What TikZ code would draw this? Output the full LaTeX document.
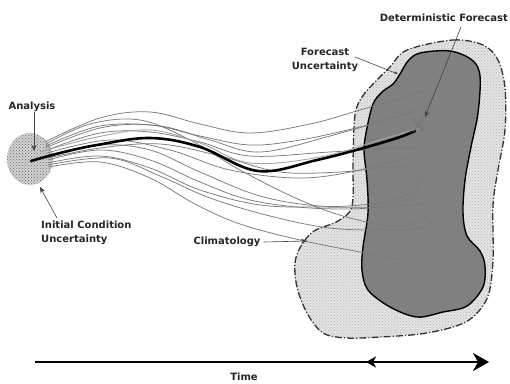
\documentclass[tikz,border=0pt]{standalone}
\usepackage{fontspec}
\setmainfont{DejaVu Sans}
\usetikzlibrary{arrows.meta,patterns}
\begin{document}
\begin{tikzpicture}[x=1pt,y=-1pt,
  lbl/.style={font=\bfseries\fontsize{10}{14.5}\selectfont, inner sep=0pt, text=black!85},
  ens/.style={draw=black!52, line width=0.75pt},
  ptr/.style={draw=black!75, line width=0.6pt, -{Stealth[length=6pt,width=5pt]}},
  climfill/.style={fill=gray!22, postaction={pattern=crosshatch dots, pattern color=gray!55}},
  fcfill/.style={fill=black!50},
  icfill/.style={fill=gray!35, postaction={pattern=crosshatch dots, pattern color=black!60}}
]
\useasboundingbox (0,0) rectangle (510,383);

% climatology region
\path[climfill] plot[smooth cycle, tension=0.55] coordinates {
 (407,50) (453,40) (483,45) (498,60) (505,88) (505,130) (498,170) (493,205) (493,260) (488,296)
 (473,317) (453,327) (420,334) (380,337) (347,338) (323,333) (307,313) (297,287) (295,263)
 (301,246) (314,231) (338,221) (352,206) (353,160) (355,115) (362,97) (375,82) (390,67)};
\draw[black!80, line width=1.3pt, dash pattern=on 7pt off 2pt on 1.2pt off 2pt] plot[smooth cycle, tension=0.55] coordinates {
 (407,50) (453,40) (483,45) (498,60) (505,88) (505,130) (498,170) (493,205) (493,260) (488,296)
 (473,317) (453,327) (420,334) (380,337) (347,338) (323,333) (307,313) (297,287) (295,263)
 (301,246) (314,231) (338,221) (352,206) (353,160) (355,115) (362,97) (375,82) (390,67)};

% forecast uncertainty region
\draw[fcfill, draw=black, line width=1.4pt] plot[smooth cycle, tension=0.55] coordinates {
 (420,53) (450,51) (472,60) (480,76) (478,113) (471,147) (465,180) (463,213) (467,236) (480,251)
 (485,266) (483,287) (467,306) (443,312) (417,317) (390,307) (368,290) (362,270) (363,247)
 (368,213) (367,180) (364,150) (367,128) (373,104) (382,92) (393,84) (400,74) (408,61)};

% initial condition uncertainty
\path[icfill] (30,159) ellipse [x radius=23, y radius=26];

% ensemble members
\draw[ens] plot[smooth, tension=0.6] coordinates {(45,142) (100,118) (150,112) (200,124) (250,133) (310,124) (360,110) (427,90)};
\draw[ens] plot[smooth, tension=0.6] coordinates {(46,146) (100,126) (160,126) (210,140) (260,152) (330,136) (413,112)};
\draw[ens] plot[smooth, tension=0.6] coordinates {(47,150) (100,133) (150,132) (200,142) (250,156) (330,152) (417,147)};
\draw[ens] plot[smooth, tension=0.6] coordinates {(47,153) (110,140) (170,150) (230,170) (300,178) (360,170) (416,154)};
\draw[ens] plot[smooth, tension=0.6] coordinates {(48,158) (100,148) (160,144) (220,156) (280,172) (340,172) (380,168) (417,168)};
\draw[ens] plot[smooth, tension=0.6] coordinates {(47,156) (100,145) (150,150) (200,172) (260,196) (320,206) (370,204) (405,196) (425,175)};
\draw[ens] plot[smooth, tension=0.6] coordinates {(48,160) (100,150) (150,160) (200,182) (250,200) (310,208) (370,208) (405,200) (420,189)};
\draw[ens] plot[smooth, tension=0.6] coordinates {(48,163) (100,156) (150,168) (200,190) (260,205) (320,207) (380,207) (420,204) (432,197)};
\draw[ens] plot[smooth, tension=0.6] coordinates {(48,165) (110,158) (160,176) (210,198) (270,216) (330,228) (390,230) (423,228) (432,218)};
\draw[ens] plot[smooth, tension=0.6] coordinates {(49,167) (100,162) (150,178) (195,204) (240,224) (300,240) (360,252) (400,259) (420,256) (432,245)};
\draw[ens] plot[smooth, tension=0.6] coordinates {(46,144) (90,124) (140,120) (190,140) (240,170) (300,200) (350,218) (400,226) (430,215)};
\draw[ens] plot[smooth, tension=0.6] coordinates {(45,148) (100,128) (150,125) (200,136) (250,145) (300,140) (356,128) (400,116) (427,105)};
\draw[gray!70, line width=0.9pt] plot[smooth, tension=0.6] coordinates {(40,152) (97,137) (150,130) (200,143) (250,163) (320,157) (380,140) (420,128)};

% deterministic forecast
\draw[black, line width=2.6pt, line cap=round] plot[smooth, tension=0.6] coordinates {(31,161) (60,153) (97,145) (150,138) (200,147) (258,171) (317,160) (367,147) (400,137) (415,131)};
\draw[black!55, line width=0.8pt] (412,118) -- (423,131) (424,117) -- (413,132) (416,128) -- (425,128);

% labels
\node[lbl] (analysis) at (32,107) {Analysis};
\node[lbl, align=left, anchor=west] (icu) at (41,233) {Initial Condition\\Uncertainty};
\node[lbl, align=center] (fcu) at (325,60) {Forecast\\Uncertainty};
\node[lbl, anchor=east] (det) at (508,18) {Deterministic Forecast};
\node[lbl] (clim) at (227,242) {Climatology};
\node[lbl] (time) at (244,377) {Time};

\coordinate (anaTip) at (34,151);
\coordinate (icuTip) at (40,187);
\coordinate (icuTail) at (57,218);
\coordinate (fcuTail) at (355,57);
\coordinate (fcuTip) at (398,74);
\coordinate (detTail) at (461,27);
\coordinate (detTip) at (425,117);
\coordinate (climTip) at (307,241);
\coordinate (tL) at (35,362);
\coordinate (tR) at (489,362);
\coordinate (tMid) at (385,362);
\coordinate (tMidTip) at (366,362);

\draw[ptr] ([xshift=2pt]analysis.south) -- (anaTip);
\draw[ptr] (icuTail) -- (icuTip);
\draw[draw=black!75, line width=0.6pt, -{Stealth[length=4pt,width=3pt]}] (fcuTail) -- (fcuTip);
\draw[ptr] (detTail) -- (detTip);
\draw[ptr] ([xshift=3pt]clim.east) -- (climTip);

% time axis
\draw[black, line width=2pt, -{Stealth[length=16pt,width=18pt,inset=5pt]}] (tL) -- (tR);
\draw[black, line width=2pt, -{Stealth[length=10pt,width=11pt,inset=3pt]}] (tMid) -- (tMidTip);
\end{tikzpicture}
\end{document}
